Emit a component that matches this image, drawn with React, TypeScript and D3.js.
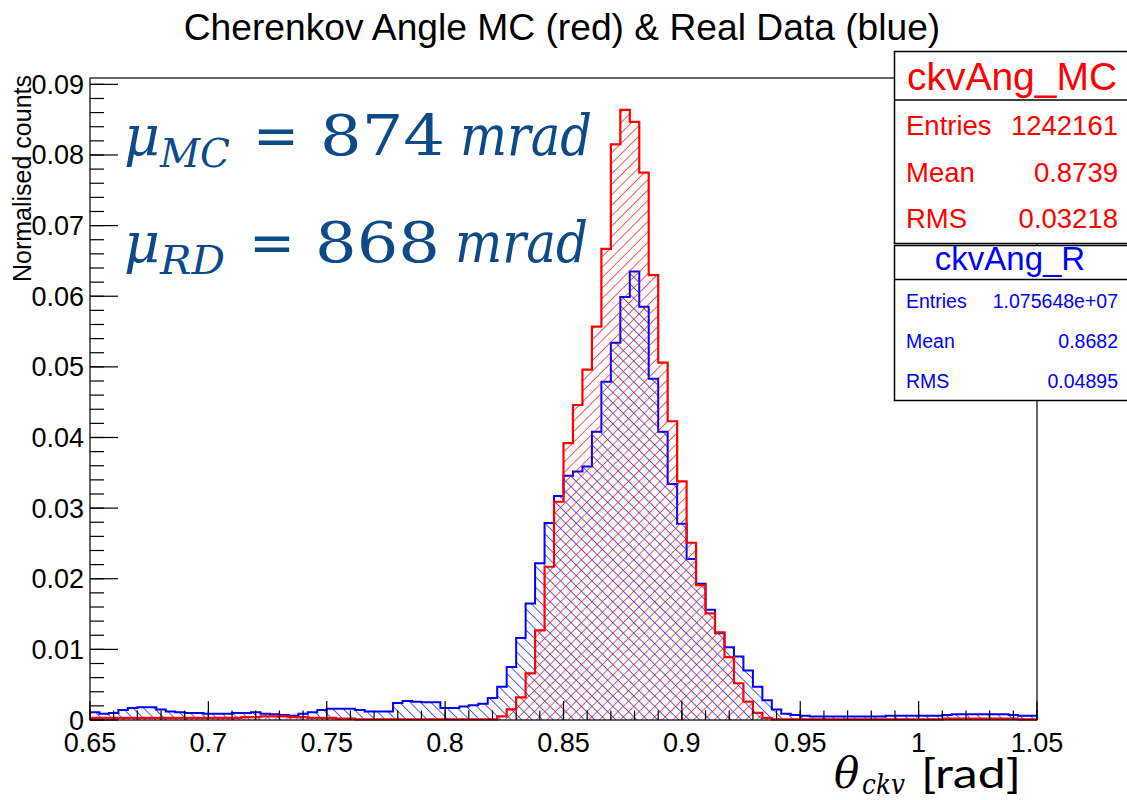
import React from "react";
import * as d3 from "d3";

// ---- data ----
const binStart = 0.65;
const binWidth = 0.004;

const mcCounts = [
  0.0003, 0.0003, 0.0003, 0.0003, 0.0003, 0.0003, 0.0003, 0.0003, 0.0003, 0.0003,
  0.0003, 0.0003, 0.0003, 0.0003, 0.0003, 0.0003, 0.0004, 0.0004, 0.0005, 0.0005,
  0.0005, 0.0004, 0.0004, 0.0003, 0.0003, 0.0003, 0.0002, 0.0002, 0.0001, 0.0001,
  0.0001, 0.0001, 0.0001, 0.0001, 0.0001, 0.0001, 0.0001, 0.0001, 0.0001, 0.0001,
  0.0001, 0.0001, 0.0001, 0.0005, 0.0015, 0.0032, 0.0066, 0.0127, 0.0217, 0.0309,
  0.0392, 0.0446, 0.0496, 0.0557, 0.0667, 0.0815, 0.0864, 0.0847, 0.0775, 0.0630,
  0.0506, 0.0423, 0.0338, 0.0251, 0.0191, 0.0151, 0.0124, 0.0089, 0.0052, 0.0026,
  0.0010, 0.0003, 0.0001, 0.0001, 0.0001, 0.0001, 0.0001, 0.0001, 0.0001, 0.0001,
  0.0001, 0.0001, 0.0001, 0.0001, 0.0001, 0.0001, 0.0001, 0.0001, 0.0001, 0.0001,
  0.0002, 0.0002, 0.0002, 0.0002, 0.0002, 0.0002, 0.0002, 0.0002, 0.0001, 0.0001,
];

const rdCounts = [
  0.0011, 0.0009, 0.0010, 0.0014, 0.0017, 0.0018, 0.0018, 0.0015, 0.0012, 0.0011,
  0.0010, 0.0010, 0.0009, 0.0009, 0.0009, 0.0010, 0.0010, 0.0011, 0.0009, 0.0008,
  0.0007, 0.0006, 0.0009, 0.0011, 0.0014, 0.0016, 0.0016, 0.0016, 0.0014, 0.0012,
  0.0012, 0.0012, 0.0024, 0.0027, 0.0026, 0.0025, 0.0025, 0.0017, 0.0017, 0.0019,
  0.0021, 0.0023, 0.0031, 0.0047, 0.0075, 0.0116, 0.0165, 0.0222, 0.0279, 0.0317,
  0.0346, 0.0352, 0.0359, 0.0408, 0.0479, 0.0534, 0.0599, 0.0635, 0.0585, 0.0483,
  0.0408, 0.0334, 0.0278, 0.0228, 0.0193, 0.0156, 0.0123, 0.0103, 0.0090, 0.0070,
  0.0047, 0.0028, 0.0015, 0.0009, 0.0007, 0.0006, 0.0005, 0.0005, 0.0005, 0.0005,
  0.0005, 0.0005, 0.0005, 0.0005, 0.0006, 0.0006, 0.0006, 0.0006, 0.0006, 0.0006,
  0.0007, 0.0008, 0.0008, 0.0008, 0.0008, 0.0008, 0.0008, 0.0007, 0.0006, 0.0006,
];

const xTickValues = [0.65, 0.7, 0.75, 0.8, 0.85, 0.9, 0.95, 1, 1.05];
const xTickLabels = ["0.65", "0.7", "0.75", "0.8", "0.85", "0.9", "0.95", "1", "1.05"];
const yTickValues = [0, 0.01, 0.02, 0.03, 0.04, 0.05, 0.06, 0.07, 0.08, 0.09];
const yTickLabels = ["0", "0.01", "0.02", "0.03", "0.04", "0.05", "0.06", "0.07", "0.08", "0.09"];

const titleText = "Cherenkov Angle MC (red) & Real Data (blue)";
const yTitle = "Normalised counts";

const statsMC = { name: "ckvAng_MC", rows: [["Entries", "1242161"], ["Mean", "0.8739"], ["RMS", "0.03218"]] };
const statsRD = { name: "ckvAng_R", rows: [["Entries", "1.075648e+07"], ["Mean", "0.8682"], ["RMS", "0.04895"]] };

const W = 1127;
const H = 800;
const M = { left: 90, right: 1037, top: 78, bottom: 720 };
const X_MIN = 0.65, X_MAX = 1.05, Y_MAX = 0.0909;

const RED = "#ff0000";
const BLUE = "#0000ff";
const NOTE = "#0c4a88";
const SANS = "'Liberation Sans', Arial, Helvetica, sans-serif";
const SERIF = "'DejaVu Serif', 'Liberation Serif', serif";

type Pt = { x: number; v: number };

function stepPoints(counts: number[]): Pt[] {
  const pts: Pt[] = counts.map((v, i) => ({ x: binStart + i * binWidth, v }));
  pts.push({ x: binStart + counts.length * binWidth, v: counts[counts.length - 1] });
  return pts;
}

export default function App() {
  const x = d3.scaleLinear().domain([X_MIN, X_MAX]).range([M.left, M.right]);
  const y = d3.scaleLinear().domain([0, Y_MAX]).range([M.bottom, M.top]);

  const area = d3
    .area<Pt>()
    .x((d) => x(d.x))
    .y0(y(0))
    .y1((d) => y(d.v))
    .curve(d3.curveStepAfter);
  const line = d3
    .line<Pt>()
    .x((d) => x(d.x))
    .y((d) => y(d.v))
    .curve(d3.curveStepAfter);

  const mcPts = stepPoints(mcCounts);
  const rdPts = stepPoints(rdCounts);

  const xMinor = d3.range(0, 41).map((i) => 0.65 + i * 0.01);
  const yMinor = d3.range(0, 46).map((i) => i * 0.002).filter((v) => v <= Y_MAX);

  const box1 = { x: 894.5, y: 51.5, w: 240, h: 192, head: 48.5 };
  const box2 = { x: 894.5, y: 245.5, w: 240, h: 155, head: 34 };

  return (
    <svg
      width={W}
      height={H}
      style={{ position: "absolute", left: 0, top: 0, background: "#fff" }}
      xmlns="http://www.w3.org/2000/svg"
    >
      <defs>
        <pattern id="hatchRed" patternUnits="userSpaceOnUse" width="7.4" height="10" patternTransform="rotate(45)">
          <line x1="0" y1="-1" x2="0" y2="11" stroke={RED} strokeWidth="1.3" />
        </pattern>
        <pattern id="hatchBlue" patternUnits="userSpaceOnUse" width="7.4" height="10" patternTransform="rotate(-45)">
          <line x1="0" y1="-1" x2="0" y2="11" stroke={BLUE} strokeWidth="1.3" />
        </pattern>
      </defs>
      <rect x={0} y={0} width={W} height={H} fill="#fff" />

      {/* title */}
      <text x={562} y={40} textAnchor="middle" fontFamily={SANS} fontSize={37.2} fill="#000">
        {titleText}
      </text>

      {/* histograms */}
      <path d={area(rdPts) || ""} fill="url(#hatchBlue)" />
      <path d={line(rdPts) || ""} fill="none" stroke={BLUE} strokeWidth={2} />
      <path d={area(mcPts) || ""} fill="url(#hatchRed)" />
      <path d={line(mcPts) || ""} fill="none" stroke={RED} strokeWidth={2.2} />

      {/* frame */}
      <rect x={M.left} y={M.top} width={M.right - M.left} height={M.bottom - M.top} fill="none" stroke="#000" strokeWidth={1.2} />

      {/* x ticks */}
      {xMinor.map((v, i) => (
        <line key={"xm" + i} x1={x(v)} x2={x(v)} y1={M.bottom} y2={M.bottom - 9.5} stroke="#000" strokeWidth={1.2} />
      ))}
      {xTickValues.map((v, i) => (
        <g key={"xt" + i}>
          <line x1={x(v)} x2={x(v)} y1={M.bottom} y2={M.bottom - 19} stroke="#000" strokeWidth={1.2} />
          <text x={x(v)} y={752} textAnchor="middle" fontFamily={SANS} fontSize={27} fill="#000">
            {xTickLabels[i]}
          </text>
        </g>
      ))}

      {/* y ticks */}
      {yMinor.map((v, i) => (
        <line key={"ym" + i} x1={M.left} x2={M.left + 14} y1={y(v)} y2={y(v)} stroke="#000" strokeWidth={1.2} />
      ))}
      {yTickValues.map((v, i) => (
        <g key={"yt" + i}>
          <line x1={M.left} x2={M.left + 28} y1={y(v)} y2={y(v)} stroke="#000" strokeWidth={1.2} />
          <text x={84} y={y(v) + 9.5} textAnchor="end" fontFamily={SANS} fontSize={27} fill="#000">
            {yTickLabels[i]}
          </text>
        </g>
      ))}

      {/* y title */}
      <text
        transform={`translate(31,75) rotate(-90)`}
        textAnchor="end"
        fontFamily={SANS}
        fontSize={25}
        fill="#000"
      >
        {yTitle}
      </text>

      {/* x title */}
      <g fill="#000">
        <text x={834} y={788} fontFamily={SERIF} fontStyle="italic" fontSize={42}>θ</text>
        <text x={862} y={794} fontFamily={SERIF} fontStyle="italic" fontSize={28} textLength={43} lengthAdjust="spacingAndGlyphs">ckv</text>
        <text x={921} y={788} fontFamily="Lato, 'Open Sans', sans-serif" fontSize={40} textLength={100} lengthAdjust="spacingAndGlyphs">[rad]</text>
      </g>

      {/* mu annotations */}
      <g fill={NOTE} fontFamily={SERIF}>
        <text x={124} y={155} fontStyle="italic" fontSize={56} textLength={36} lengthAdjust="spacingAndGlyphs">μ</text>
        <text x={160} y={167} fontStyle="italic" fontSize={40} textLength={70} lengthAdjust="spacingAndGlyphs">MC</text>
        <text x={253} y={155} fontSize={56} textLength={46} lengthAdjust="spacingAndGlyphs">=</text>
        <text x={320} y={155} fontSize={56} textLength={125} lengthAdjust="spacingAndGlyphs">874</text>
        <text x={460} y={155} fontStyle="italic" fontSize={56} textLength={132} lengthAdjust="spacingAndGlyphs">mrad</text>

        <text x={124} y={262} fontStyle="italic" fontSize={56} textLength={36} lengthAdjust="spacingAndGlyphs">μ</text>
        <text x={160} y={274} fontStyle="italic" fontSize={40} textLength={65} lengthAdjust="spacingAndGlyphs">RD</text>
        <text x={249} y={262} fontSize={56} textLength={46} lengthAdjust="spacingAndGlyphs">=</text>
        <text x={315} y={262} fontSize={56} textLength={125} lengthAdjust="spacingAndGlyphs">868</text>
        <text x={455} y={262} fontStyle="italic" fontSize={56} textLength={133} lengthAdjust="spacingAndGlyphs">mrad</text>
      </g>

      {/* stats box MC */}
      <g>
        <rect x={box1.x} y={box1.y} width={box1.w} height={box1.h} fill="#fff" stroke="#000" strokeWidth={1.5} />
        <line x1={box1.x} x2={box1.x + box1.w} y1={box1.y + box1.head} y2={box1.y + box1.head} stroke="#000" strokeWidth={1.5} />
        <text x={1012} y={90} textAnchor="middle" fontFamily={SANS} fontSize={39} fill={RED}>
          {statsMC.name}
        </text>
        {statsMC.rows.map((r, i) => (
          <g key={"s1" + i} fontFamily={SANS} fontSize={27.5} fill={RED}>
            <text x={906} y={135 + i * 46.5}>{r[0]}</text>
            <text x={1118} y={135 + i * 46.5} textAnchor="end">{r[1]}</text>
          </g>
        ))}
      </g>

      {/* stats box RD */}
      <g>
        <rect x={box2.x} y={box2.y} width={box2.w} height={box2.h} fill="#fff" stroke="#000" strokeWidth={1.5} />
        <line x1={box2.x} x2={box2.x + box2.w} y1={box2.y + box2.head} y2={box2.y + box2.head} stroke="#000" strokeWidth={1.5} />
        <text x={1010} y={270} textAnchor="middle" fontFamily={SANS} fontSize={33} fill={BLUE}>
          {statsRD.name}
        </text>
        {statsRD.rows.map((r, i) => (
          <g key={"s2" + i} fontFamily={SANS} fontSize={19.5} fill={BLUE}>
            <text x={906} y={308 + i * 40}>{r[0]}</text>
            <text x={1118} y={308 + i * 40} textAnchor="end">{r[1]}</text>
          </g>
        ))}
      </g>
    </svg>
  );
}
